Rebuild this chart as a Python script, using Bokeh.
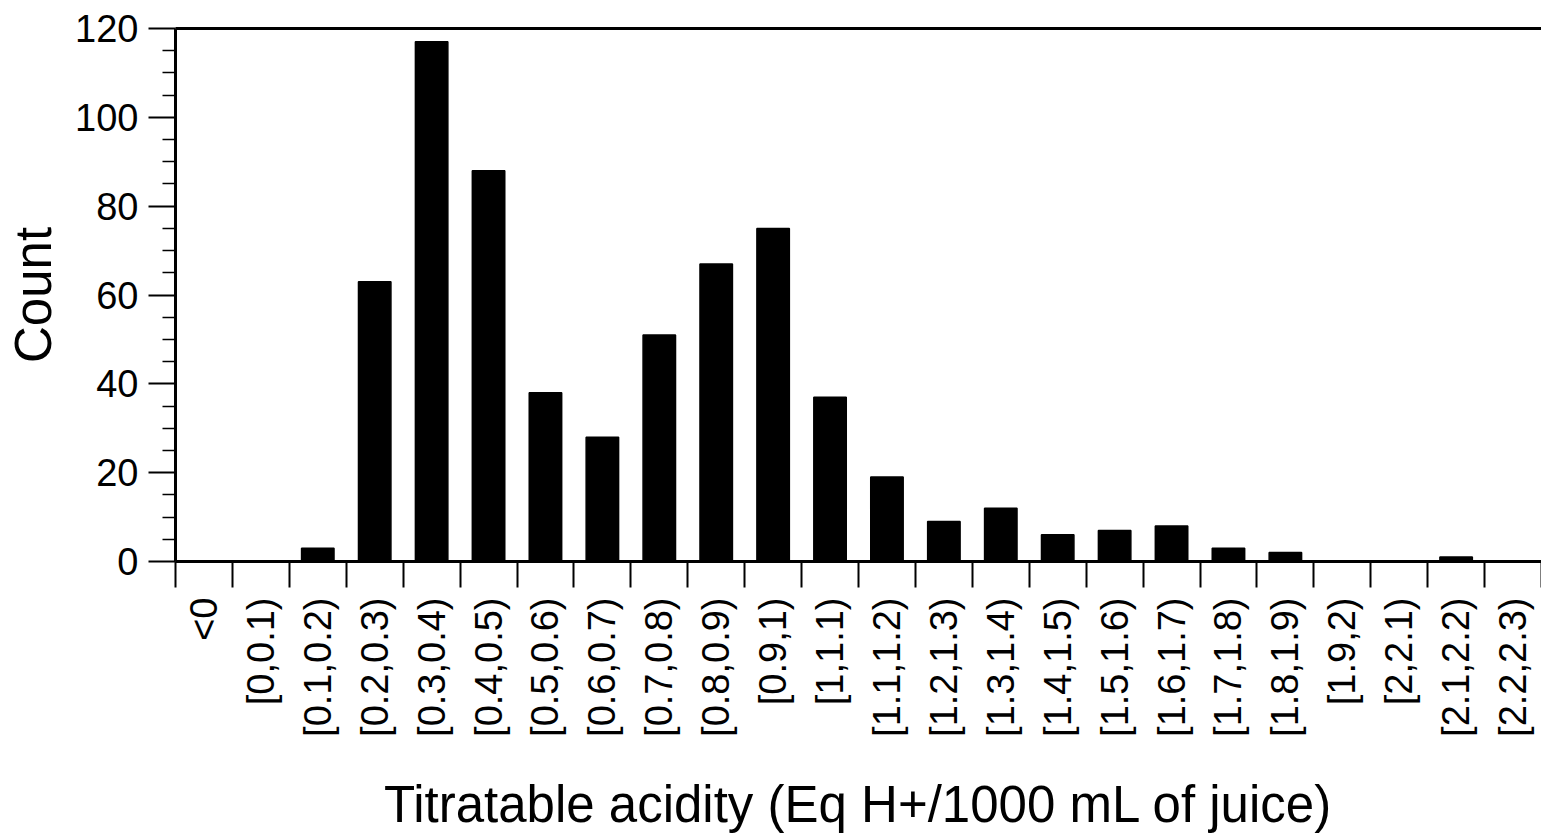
import math
from bokeh.plotting import figure
from bokeh.models import Range1d, FixedTicker, LinearAxis
from bokeh.embed import file_html
from bokeh.resources import INLINE

categories = ["<0", "[0,0.1)", "[0.1,0.2)", "[0.2,0.3)", "[0.3,0.4)", "[0.4,0.5)",
              "[0.5,0.6)", "[0.6,0.7)", "[0.7,0.8)", "[0.8,0.9)", "[0.9,1)", "[1,1.1)",
              "[1.1,1.2)", "[1.2,1.3)", "[1.3,1.4)", "[1.4,1.5)", "[1.5,1.6)", "[1.6,1.7)",
              "[1.7,1.8)", "[1.8,1.9)", "[1.9,2)", "[2,2.1)", "[2.1,2.2)", "[2.2,2.3)"]
counts = [0, 0, 3, 63, 117, 88, 38, 28, 51, 67, 75, 37, 19, 9, 12, 6, 7, 8, 3, 2, 0, 0, 1, 0]
y_ticks = [0, 20, 40, 60, 80, 100, 120]
y_minor = [v for v in range(0, 121, 5) if v % 20 != 0]

n = len(categories)
centers = [i + 0.5 for i in range(n)]
bounds = list(range(n + 1))

FONT = "Liberation Sans"

p = figure(frame_width=1366, frame_height=533,
           x_range=Range1d(0, n), y_range=Range1d(0, 120),
           output_backend="svg", toolbar_location=None,
           min_border_left=175, min_border_right=0, min_border_top=28, min_border_bottom=276,
           background_fill_color="white", border_fill_color="white")
p.outline_line_color = None
p.xgrid.visible = False
p.ygrid.visible = False

p.vbar(x=centers, top=counts, width=0.57, bottom=0, fill_color="black", line_color="black",
       line_width=1.5)

# x axis
xa = p.xaxis[0]
xa.ticker = FixedTicker(ticks=centers, minor_ticks=bounds)
xa.major_label_overrides = {c: lab for c, lab in zip(centers, categories)}
xa.major_label_orientation = math.pi / 2
xa.major_tick_line_color = None
xa.major_tick_out = 26
xa.major_tick_in = 0
xa.minor_tick_out = 26
xa.minor_tick_in = 0
xa.minor_tick_line_width = 2
xa.minor_tick_line_color = "black"
xa.axis_line_width = 3
xa.axis_line_color = "black"
xa.major_label_text_font = FONT
xa.major_label_text_font_size = "38px"
xa.major_label_text_color = "black"
xa.major_label_standoff = 10
xa.axis_label = "Titratable acidity (Eq H+/1000 mL of juice)"
xa.axis_label_text_font = FONT
xa.axis_label_text_font_size = "51px"
xa.axis_label_text_font_style = "normal"
xa.axis_label_text_color = "black"
xa.axis_label_standoff = 36

# y axis
ya = p.yaxis[0]
ya.ticker = FixedTicker(ticks=y_ticks, minor_ticks=y_minor)
ya.major_tick_out = 27
ya.major_tick_in = 0
ya.minor_tick_out = 13
ya.minor_tick_in = 0
ya.major_tick_line_width = 2
ya.minor_tick_line_width = 1.5
ya.major_tick_line_color = "black"
ya.minor_tick_line_color = "black"
ya.axis_line_width = 3
ya.axis_line_color = "black"
ya.major_label_text_font = FONT
ya.major_label_text_font_size = "38px"
ya.major_label_text_color = "black"
ya.major_label_standoff = 10
ya.axis_label = "Count"
ya.axis_label_text_font = FONT
ya.axis_label_text_font_size = "51px"
ya.axis_label_text_font_style = "normal"
ya.axis_label_text_color = "black"
ya.axis_label_standoff = 10

# top border line
top = LinearAxis(ticker=FixedTicker(ticks=[]), axis_line_width=3, axis_line_color="black",
                 major_tick_line_color=None, minor_tick_line_color=None,
                 major_label_text_font_size="0px")
p.add_layout(top, "above")

open("out.html", "w").write(file_html(p, INLINE))
